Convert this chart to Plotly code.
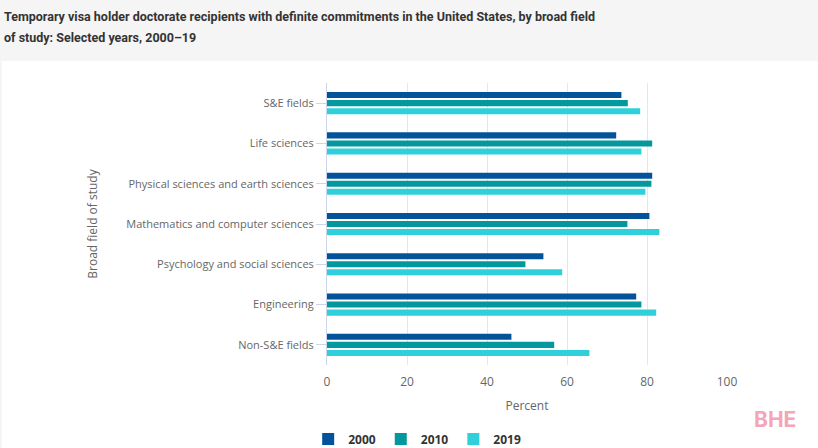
import plotly.graph_objects as go

categories = ["S&E fields", "Life sciences", "Physical sciences and earth sciences",
              "Mathematics and computer sciences", "Psychology and social sciences",
              "Engineering", "Non-S&E fields"]
years = ["2000", "2010", "2019"]
values_2000 = [73.6, 72.3, 81.3, 80.6, 54.1, 77.3, 46.1]
values_2010 = [75.2, 81.3, 81.1, 75.1, 49.6, 78.6, 56.8]
values_2019 = [78.3, 78.6, 79.6, 83.1, 58.8, 82.3, 65.6]
colors = ["#02539A", "#03989E", "#2FD0DA"]
x_ticks = [0, 20, 40, 60, 80, 100]
title_lines = ["Temporary visa holder doctorate recipients with definite commitments in the United States, by broad field",
               "of study: Selected years, 2000\u201319"]

fig = go.Figure()
for name, vals, col in zip(years, [values_2000, values_2010, values_2019], colors):
    fig.add_trace(go.Bar(y=categories, x=vals, name=name, orientation="h",
                         marker=dict(color=col, line=dict(width=0)),
                         hovertemplate="%{y}: %{x}<extra>" + name + "</extra>"))

# plot area geometry (px)
L, R, T, B = 327, 91, 83, 83
W, H = 818, 448
pw, ph = W - L - R, H - T - B


def px_x(x):
    return (x - L) / pw


def px_y(y):
    return (H - B - y) / ph


fig.add_shape(type="rect", xref="paper", yref="paper", layer="below",
              x0=px_x(2), x1=px_x(W + 5), y0=px_y(H + 5), y1=px_y(61),
              fillcolor="white", line=dict(width=0))

for i, (line, yc) in enumerate(zip(title_lines, [16, 37])):
    fig.add_annotation(text="<b>" + line + "</b>", xref="paper", yref="paper",
                       x=px_x(2), y=px_y(yc), xanchor="left", yanchor="middle",
                       showarrow=False,
                       font=dict(family="Roboto, sans-serif", size=12.5, color="#333333"))

fig.add_annotation(text="<b>BHE</b>", xref="paper", yref="paper",
                   x=px_x(775), y=px_y(419), showarrow=False,
                   font=dict(family="Inter, Roboto, sans-serif", size=21, color="#F5A5B8"),
                   xanchor="center", yanchor="middle")

fig.update_layout(
    width=W, height=H,
    margin=dict(l=L, r=R, t=T, b=B, pad=0),
    paper_bgcolor="#F5F5F5",
    plot_bgcolor="rgba(0,0,0,0)",
    barmode="group",
    bargap=0.40,
    bargroupgap=0.25,
    font=dict(family="Open Sans, sans-serif", color="#666666", size=11),
    legend=dict(orientation="h", xref="container", x=0.51, xanchor="center",
                yref="container", y=(H - 439) / H, yanchor="middle",
                font=dict(family="Open Sans, sans-serif", size=12, color="#333333", weight="bold"),
                traceorder="normal", bgcolor="rgba(0,0,0,0)"),
    showlegend=True,
)
fig.update_xaxes(range=[0, 100], tickvals=x_ticks, showgrid=True, gridcolor="#E6E6E6", gridwidth=1,
                 zeroline=False, showline=False, ticks="", ticklabelstandoff=8,
                 tickfont=dict(size=12, color="#666666"),
                 title=dict(text="Percent", font=dict(size=12, color="#666666"), standoff=12))
fig.update_yaxes(autorange="reversed", showgrid=False, showline=True, linecolor="#CCD6EB", linewidth=1,
                 ticks="outside", ticklen=10, tickcolor="#CCD6EB", tickwidth=1,
                 tickfont=dict(size=11, color="#666666"),
                 title=dict(text="Broad field of study", font=dict(size=12, color="#666666"), standoff=26))

fig.write_html("out.html", config={"displayModeBar": False},
               post_script="document.body.style.margin='0';document.body.style.padding='0';")
